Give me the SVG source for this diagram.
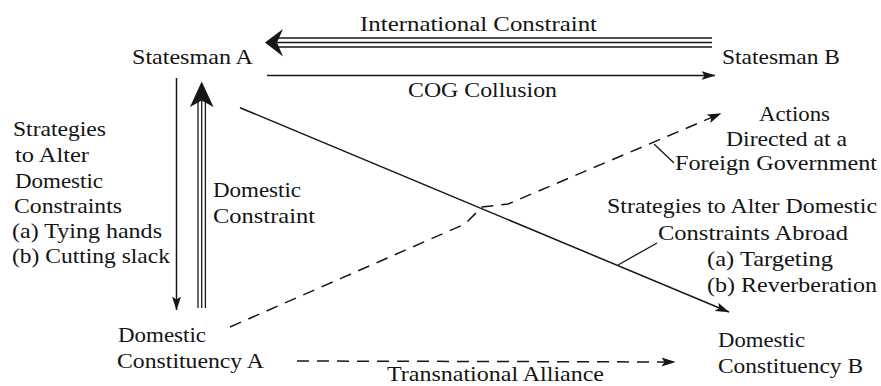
<svg xmlns="http://www.w3.org/2000/svg" width="881" height="386" viewBox="0 0 881 386">
  <style>
    text { font-family: "Liberation Serif", "Times New Roman", serif; font-size: 22px; fill: #141414; }
    .ln { stroke: #161616; stroke-width: 1.5; fill: none; }
    .dash { stroke-dasharray: 12 8; }
    .thin { stroke: #161616; stroke-width: 1.3; fill: none; }
    .head { fill: #161616; stroke: none; }
  </style>
  <defs>
    <marker id="ah" viewBox="0 0 14 10" markerWidth="14" markerHeight="10" refX="13.5" refY="5" orient="auto" markerUnits="userSpaceOnUse">
      <path d="M0,0.5 L14,5 L0,9.5 L3,5 Z" class="head"/>
    </marker>
  </defs>
  <rect width="881" height="386" fill="#ffffff"/>

  <g id="connectors">
    <g id="international-constraint">
      <line class="thin" x1="274" y1="38" x2="712" y2="38"/>
      <line class="thin" x1="276" y1="42.5" x2="712" y2="42.5"/>
      <line class="thin" x1="274" y1="47" x2="712" y2="47"/>
      <path class="head" d="M265,42.5 L283,29 L277,42.5 L283,56.5 Z"/>
    </g>
    <line class="ln" x1="267" y1="75.5" x2="715" y2="75.5" marker-end="url(#ah)"/>
    <line class="ln" x1="176.5" y1="78" x2="176.5" y2="310" marker-end="url(#ah)"/>
    <g id="domestic-constraint">
      <line class="thin" x1="198" y1="100" x2="198" y2="308"/>
      <line class="thin" x1="201.7" y1="98" x2="201.7" y2="308"/>
      <line class="thin" x1="205.4" y1="100" x2="205.4" y2="308"/>
      <path class="head" d="M201.7,81.5 L213.5,107 L201.7,100.5 L190,107 Z"/>
    </g>
    <line class="ln" x1="240" y1="107.7" x2="729" y2="312" marker-end="url(#ah)"/>
    <polyline class="ln dash" points="230,327 465,224 482,207 508,204 721,113.5" marker-end="url(#ah)"/>
    <line class="ln dash" x1="297" y1="361" x2="675" y2="362" marker-end="url(#ah)"/>
    <line class="thin" x1="654" y1="144" x2="674" y2="163"/>
    <line class="thin" x1="618" y1="265" x2="657" y2="243"/>
  </g>

  <g id="edge-labels">
    <text x="360" y="31" textLength="237" lengthAdjust="spacingAndGlyphs">International Constraint</text>
    <text x="408" y="97" textLength="149" lengthAdjust="spacingAndGlyphs">COG Collusion</text>
    <g id="label-strategies-domestic">
      <text x="13" y="136" textLength="93" lengthAdjust="spacingAndGlyphs">Strategies</text>
      <text x="15" y="162" textLength="74" lengthAdjust="spacingAndGlyphs">to Alter</text>
      <text x="15" y="188" textLength="88" lengthAdjust="spacingAndGlyphs">Domestic</text>
      <text x="14" y="213" textLength="108" lengthAdjust="spacingAndGlyphs">Constraints</text>
      <text x="12" y="238" textLength="150" lengthAdjust="spacingAndGlyphs">(a) Tying hands</text>
      <text x="12" y="263" textLength="158" lengthAdjust="spacingAndGlyphs">(b) Cutting slack</text>
    </g>
    <g id="label-domestic-constraint">
      <text x="213" y="197" textLength="88" lengthAdjust="spacingAndGlyphs">Domestic</text>
      <text x="213" y="222.5" textLength="102" lengthAdjust="spacingAndGlyphs">Constraint</text>
    </g>
    <g id="label-strategies-abroad">
      <text x="607" y="213" textLength="270" lengthAdjust="spacingAndGlyphs">Strategies to Alter Domestic</text>
      <text x="658" y="239.5" textLength="190" lengthAdjust="spacingAndGlyphs">Constraints Abroad</text>
      <text x="707" y="265.5" textLength="126" lengthAdjust="spacingAndGlyphs">(a) Targeting</text>
      <text x="707" y="291.5" textLength="170" lengthAdjust="spacingAndGlyphs">(b) Reverberation</text>
    </g>
    <text x="387" y="381" textLength="217" lengthAdjust="spacingAndGlyphs">Transnational Alliance</text>
  </g>

  <g id="statesman-a">
    <text x="132" y="64" textLength="121" lengthAdjust="spacingAndGlyphs">Statesman A</text>
  </g>
  <g id="statesman-b">
    <text x="722" y="64" textLength="118" lengthAdjust="spacingAndGlyphs">Statesman B</text>
  </g>
  <g id="actions-foreign-government">
    <text x="759" y="121" textLength="71" lengthAdjust="spacingAndGlyphs">Actions</text>
    <text x="726" y="145.5" textLength="121" lengthAdjust="spacingAndGlyphs">Directed at a</text>
    <text x="675" y="170" textLength="202" lengthAdjust="spacingAndGlyphs">Foreign Government</text>
  </g>
  <g id="constituency-a">
    <text x="118" y="342" textLength="88" lengthAdjust="spacingAndGlyphs">Domestic</text>
    <text x="117" y="368" textLength="147" lengthAdjust="spacingAndGlyphs">Constituency A</text>
  </g>
  <g id="constituency-b">
    <text x="718" y="347" textLength="87" lengthAdjust="spacingAndGlyphs">Domestic</text>
    <text x="718" y="373" textLength="145" lengthAdjust="spacingAndGlyphs">Constituency B</text>
  </g>
</svg>
